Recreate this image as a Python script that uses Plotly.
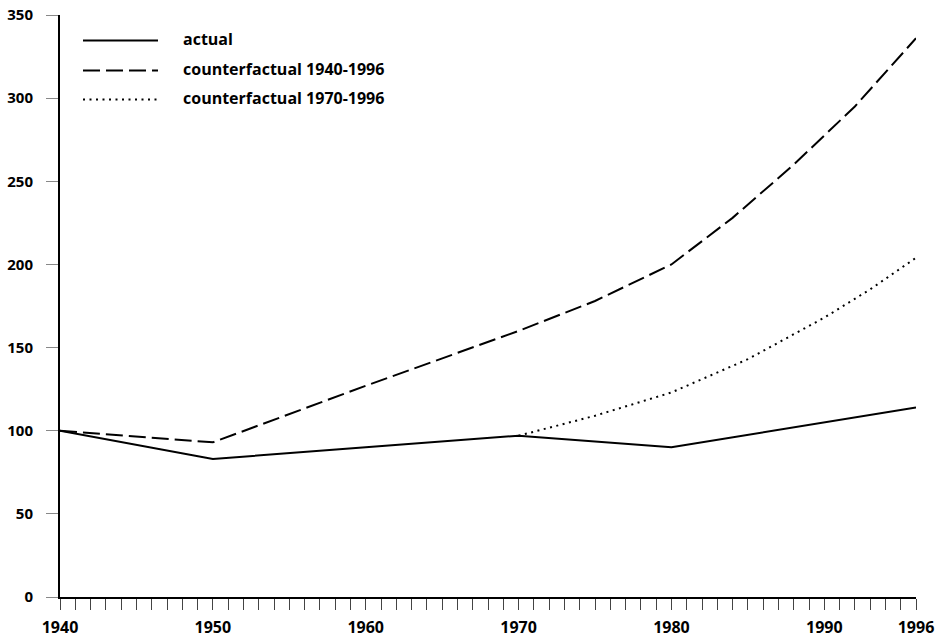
import plotly.graph_objects as go

# ---- data ----
years_actual = [1940, 1950, 1960, 1970, 1980, 1990, 1996]
actual = [100, 83, 90, 97, 90, 105, 114]

years_cf40 = [1940, 1950, 1960, 1970, 1975, 1980, 1984, 1988, 1992, 1996]
cf40 = [100, 93, 127, 160, 178, 200, 228, 260, 295, 336]

years_cf70 = [1970, 1975, 1980, 1985, 1990, 1993, 1996]
cf70 = [97, 109, 123, 143, 168, 185, 204]

legend_labels = ["actual", "counterfactual 1940-1996", "counterfactual 1970-1996"]
x_tickvals = [1940, 1950, 1960, 1970, 1980, 1990, 1996]
y_tickvals = [0, 50, 100, 150, 200, 250, 300, 350]

# ---- layout geometry (body margin removed, so page px == figure px) ----
W, H = 938, 641
PL, PR, PT, PB = 60, 916, 14.5, 596.7   # plot area in page pixels
ML, MR = PL, W - PR
MT, MB = PT, H - PB
PW = PR - PL
PH = PB - PT

def px_x(px):
    return (px - PL) / PW

def px_y(py):
    return (PB - py) / PH

FONT = "Open Sans"
dash_long = "17px,6px"
dash_dot = "2px,4.5px"

fig = go.Figure()
fig.add_trace(go.Scatter(x=years_actual, y=actual, mode="lines",
                         line=dict(color="black", width=2), name=legend_labels[0],
                         showlegend=False))
fig.add_trace(go.Scatter(x=years_cf40, y=cf40, mode="lines",
                         line=dict(color="black", width=2, dash=dash_long),
                         name=legend_labels[1], showlegend=False))
fig.add_trace(go.Scatter(x=years_cf70, y=cf70, mode="lines",
                         line=dict(color="black", width=2, dash=dash_dot),
                         name=legend_labels[2], showlegend=False))

# manual legend (long line samples as in the reference)
styles = [None, dash_long, dash_dot]
rows = [40, 70, 99]
for lab, st, ry in zip(legend_labels, styles, rows):
    line = dict(color="black", width=2)
    if st:
        line["dash"] = st
    fig.add_shape(type="line", xref="paper", yref="paper",
                  x0=px_x(83), x1=px_x(158), y0=px_y(ry), y1=px_y(ry), line=line)
    fig.add_annotation(xref="paper", yref="paper", x=px_x(181), y=px_y(ry - 1),
                       text=lab, showarrow=False, xanchor="left", yanchor="middle",
                       font=dict(family=FONT, size=16, color="black", weight="bold"))

fig.update_layout(
    width=W, height=H,
    margin=dict(l=ML, r=MR, t=MT, b=MB, pad=0, autoexpand=False),
    paper_bgcolor="white", plot_bgcolor="white",
    font=dict(family=FONT, size=16, color="black", weight="bold"),
    showlegend=False,
)
fig.update_xaxes(
    range=[1940, 1996], tickmode="array", tickvals=x_tickvals,
    ticktext=[str(v) for v in x_tickvals], automargin=False,
    ticklabeloverflow="allow",
    tickfont=dict(family=FONT, size=16, color="black", weight="bold"),
    showgrid=False, zeroline=False,
    showline=True, linecolor="black", linewidth=2,
    ticks="outside", ticklen=11, tickwidth=1, tickcolor="#444",
    ticklabelstandoff=4,
    minor=dict(dtick=1, tick0=1940, ticks="outside", ticklen=11, tickwidth=1,
               tickcolor="#444", showgrid=False),
)
fig.update_yaxes(
    range=[0, 350], tickmode="array", tickvals=y_tickvals, automargin=False,
    ticklabeloverflow="allow",
    tickfont=dict(family=FONT, size=15, color="black", weight="bold"),
    showgrid=False, zeroline=False,
    showline=True, linecolor="black", linewidth=2,
    ticks="outside", ticklen=12, tickwidth=1, tickcolor="#888",
    ticklabelstandoff=10,
)

fig.write_html("out.html",
               config={"displayModeBar": False},
               post_script="document.body.style.margin='0';document.body.style.padding='0';")
